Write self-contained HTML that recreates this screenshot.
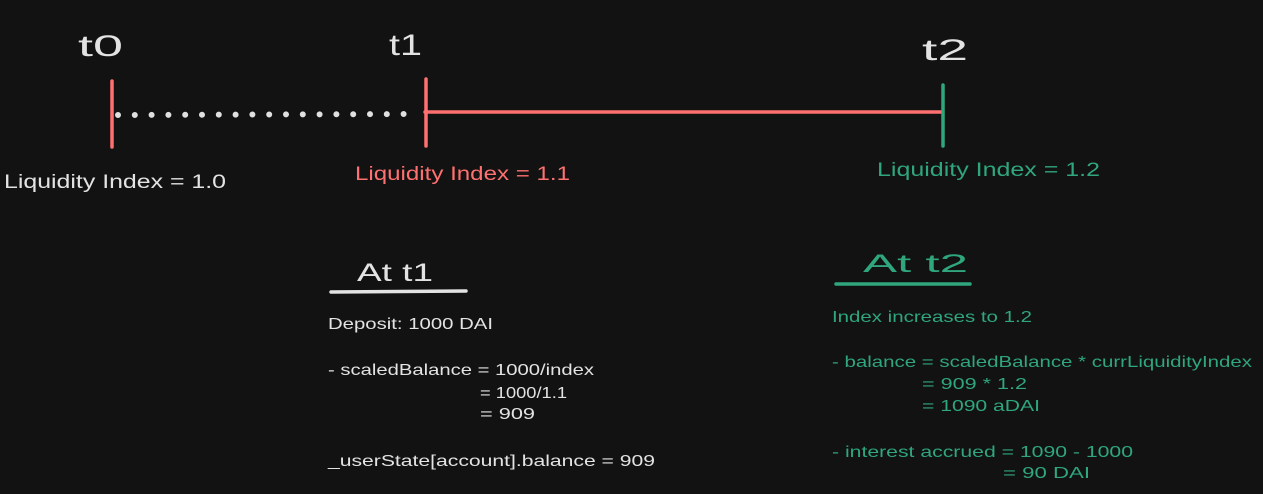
<!DOCTYPE html>
<html><head><meta charset="utf-8"><style>
html,body{margin:0;padding:0;background:#121212;}
svg{display:block;}
text{font-family:"Liberation Sans",sans-serif;}
</style></head><body>
<svg width="1263" height="494" xmlns="http://www.w3.org/2000/svg">
<rect width="1263" height="494" fill="#121212"/>
<g fill="#e3e3e3" font-size="30">
<text x="78" y="56" textLength="45" lengthAdjust="spacingAndGlyphs">t0</text>
<text x="389" y="55" textLength="33" lengthAdjust="spacingAndGlyphs">t1</text>
<text x="922" y="60" textLength="46" lengthAdjust="spacingAndGlyphs">t2</text>
</g>
<line x1="425" y1="112" x2="942" y2="112" stroke="#ff7070" stroke-width="3.5" stroke-linecap="round"/>
<line x1="112" y1="81" x2="112" y2="147" stroke="#ff7070" stroke-width="3.5" stroke-linecap="round"/>
<line x1="426" y1="79" x2="426" y2="146" stroke="#ff7070" stroke-width="3.5" stroke-linecap="round"/>
<line x1="943" y1="85" x2="943" y2="146" stroke="#2fa67c" stroke-width="3.5" stroke-linecap="round"/>
<line x1="118" y1="115" x2="414" y2="114" stroke="#e0e0e0" stroke-width="6" stroke-linecap="round" stroke-dasharray="0 16.8"/>
<g font-size="19">
<text x="4" y="188" fill="#e3e3e3" textLength="222" lengthAdjust="spacingAndGlyphs">Liquidity Index = 1.0</text>
<text x="355" y="180" fill="#ff7070" textLength="215" lengthAdjust="spacingAndGlyphs">Liquidity Index = 1.1</text>
<text x="877" y="176" fill="#2fa67c" textLength="223" lengthAdjust="spacingAndGlyphs">Liquidity Index = 1.2</text>
</g>
<text x="357" y="281" fill="#e3e3e3" font-size="25" textLength="76" lengthAdjust="spacingAndGlyphs">At t1</text>
<line x1="331" y1="292" x2="466" y2="291" stroke="#e3e3e3" stroke-width="3.5" stroke-linecap="round"/>
<text x="863" y="272" fill="#2fa67c" font-size="25" textLength="105" lengthAdjust="spacingAndGlyphs">At t2</text>
<line x1="836" y1="284" x2="970" y2="284" stroke="#2fa67c" stroke-width="3.5" stroke-linecap="round"/>
<g fill="#e3e3e3" font-size="16">
<text x="328" y="329" textLength="165" lengthAdjust="spacingAndGlyphs">Deposit: 1000 DAI</text>
<text x="328" y="375" textLength="266" lengthAdjust="spacingAndGlyphs">- scaledBalance = 1000/index</text>
<text x="480" y="398" textLength="87" lengthAdjust="spacingAndGlyphs">= 1000/1.1</text>
<text x="480" y="419" textLength="55" lengthAdjust="spacingAndGlyphs">= 909</text>
<text x="328" y="466" textLength="327" lengthAdjust="spacingAndGlyphs">_userState[account].balance = 909</text>
</g>
<g fill="#2fa67c" font-size="16">
<text x="832" y="322" textLength="200" lengthAdjust="spacingAndGlyphs">Index increases to 1.2</text>
<text x="832" y="367" textLength="420" lengthAdjust="spacingAndGlyphs">- balance = scaledBalance * currLiquidityIndex</text>
<text x="922" y="389" textLength="105" lengthAdjust="spacingAndGlyphs">= 909 * 1.2</text>
<text x="922" y="411" textLength="118" lengthAdjust="spacingAndGlyphs">= 1090 aDAI</text>
<text x="832" y="457" textLength="301" lengthAdjust="spacingAndGlyphs">- interest accrued = 1090 - 1000</text>
<text x="1003" y="478" textLength="87" lengthAdjust="spacingAndGlyphs">= 90 DAI</text>
</g>
</svg>
</body></html>
